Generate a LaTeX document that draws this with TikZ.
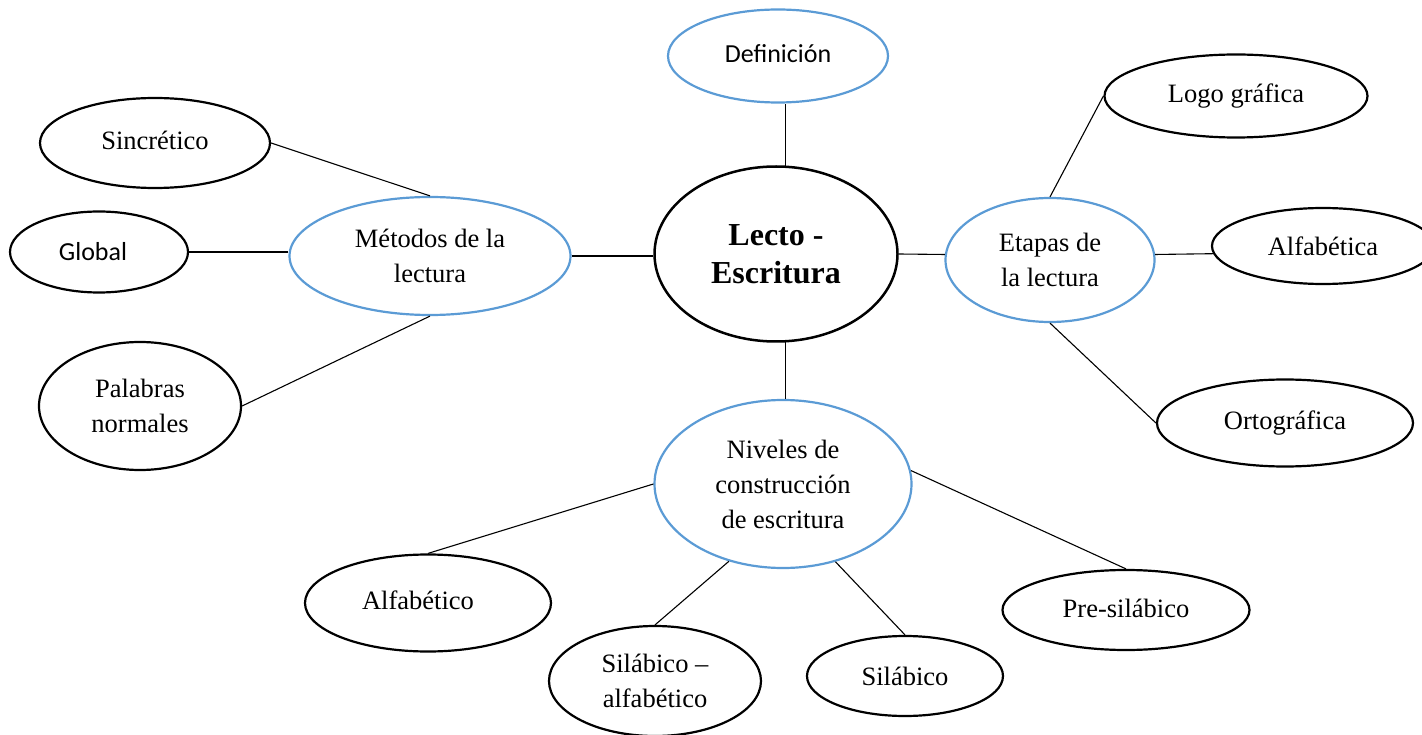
\documentclass[tikz,border=0pt]{standalone}
\usepackage{fontspec}
\setmainfont{Liberation Serif}
\newfontfamily\calib{Carlito}
\usetikzlibrary{shapes.geometric}
\definecolor{wordblue}{RGB}{91,155,213}
\tikzset{
  bub/.style={ellipse, draw=black, line width=2.2pt, inner sep=0pt, align=center,
    font=\fontsize{26.5}{35}\selectfont},
  bluebub/.style={bub, draw=wordblue},
  conn/.style={draw=black, line width=1.1pt}
}
\begin{document}
\begin{tikzpicture}[x=1pt,y=-1pt]
\useasboundingbox (0,0) rectangle (1422,735);
% nodes
\node[bluebub, minimum width=220pt, minimum height=93pt, font=\calib\fontsize{26}{32}\selectfont] (def) at (778,56) {\raisebox{5pt}{Definición}};
\node[bub, line width=2.5pt, minimum width=243pt, minimum height=175pt, font=\bfseries\fontsize{32}{38}\selectfont] (lecto) at (776,254) {Lecto -\\Escritura};
\node[bluebub, minimum width=281pt, minimum height=118pt] (met) at (430,256) {Métodos de la\\lectura};
\node[bub, minimum width=230pt, minimum height=90pt] (sinc) at (155,143) {\raisebox{5pt}{Sincrético}};
\node[bub, minimum width=178pt, minimum height=81pt, font=\calib\fontsize{26}{32}\selectfont] (glob) at (99,252) {Global\hspace*{12pt}};
\node[bub, minimum width=202pt, minimum height=128pt] (pal) at (140,406) {Palabras\\normales};
\node[bluebub, minimum width=209pt, minimum height=124pt] (eta) at (1050,260) {Etapas de\\la lectura};
\node[bub, minimum width=263pt, minimum height=83pt] (logo) at (1236,96) {Logo gráfica};
\node[bub, minimum width=222pt, minimum height=76pt] (alfa) at (1323,246) {Alfabética};
\node[bub, minimum width=256pt, minimum height=87pt] (orto) at (1285,423) {\raisebox{3pt}{Ortográfica}};
\node[bluebub, minimum width=257pt, minimum height=168pt] (niv) at (783,484) {Niveles de\\construcción\\de escritura};
\node[bub, minimum width=246pt, minimum height=97pt] (alfo) at (428,603) {\raisebox{6pt}{Alfabético}\hspace*{20pt}};
\node[bub, minimum width=212pt, minimum height=110pt] (sa) at (655,681) {Silábico –\\alfabético};
\node[bub, minimum width=196pt, minimum height=80pt] (sil) at (905,676) {Silábico};
\node[bub, minimum width=247pt, minimum height=80pt] (pre) at (1126,610) {\raisebox{3pt}{Pre-silábico}};
% connectors
\draw[conn] (lecto.84) -- (lecto.84 |- def.south);
\draw[conn] (met.east) -- (met.east -| lecto.west);
\draw[conn] (sinc.east) -- (met.north);
\draw[conn] (glob.east) -- (glob.east -| met.west);
\draw[conn] (pal.east) -- (met.south);
\draw[conn] (lecto.east) -- (eta.177);
\draw[conn] (eta.north) -- (logo.west);
\draw[conn] (eta.3) -- (alfa.184);
\draw[conn] (eta.south) -- (orto.west);
\draw[conn] (lecto.276) -- (lecto.276 |- niv.north);
\draw[conn] (alfo.north) -- (niv.west);
\draw[conn] (sa.north) -- (niv.235);
\draw[conn] (niv.304) -- (sil.north);
\draw[conn] (niv.6) -- (pre.north);
\end{tikzpicture}
\end{document}
